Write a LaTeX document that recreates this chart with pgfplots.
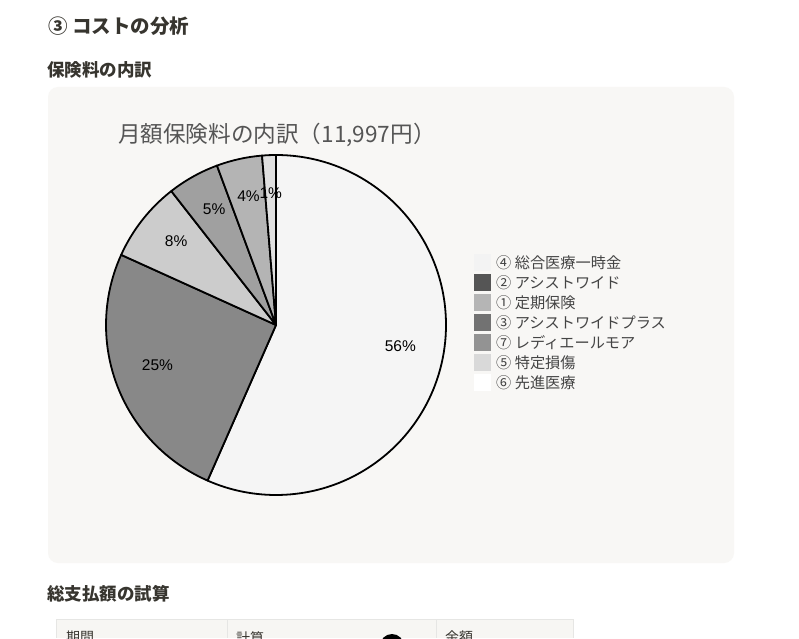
\documentclass[border=0pt]{standalone}
\usepackage{pgfplots}
\pgfplotsset{compat=1.18}
\usepackage{pgfplotstable}
\usepackage{fontspec}
\setmainfont{Noto Sans CJK JP}
\newfontfamily\lat{Liberation Sans}
\newcommand\pctfont{\lat\fontsize{15.5}{18}\selectfont}
\definecolor{S1}{HTML}{F5F5F5}
\definecolor{S2}{HTML}{888888}
\definecolor{S3}{HTML}{CCCCCC}
\definecolor{S4}{HTML}{A0A0A0}
\definecolor{S5}{HTML}{B4B4B4}
\definecolor{S6}{HTML}{E0E0E0}
\definecolor{L1}{HTML}{F3F3F3}
\definecolor{L2}{HTML}{555555}
\definecolor{L3}{HTML}{B5B5B5}
\definecolor{L4}{HTML}{727272}
\definecolor{L5}{HTML}{939393}
\definecolor{L6}{HTML}{D9D9D9}
\definecolor{L7}{HTML}{FFFFFF}
\definecolor{head}{HTML}{37352F}
\definecolor{panel}{HTML}{F8F7F5}
\definecolor{tabline}{HTML}{E6E6E4}
\definecolor{tabhead}{HTML}{F7F6F3}
\definecolor{titlec}{HTML}{555555}
\definecolor{legc}{HTML}{444444}

% monthly premium per item (yen), total 11,997
\pgfplotstableread{
value fill pct
6790 S1 56
3020 S2 25
920  S3 8
590  S4 5
520  S5 4
157  S6 1
}\piedata

\begin{document}
\begin{tikzpicture}
\useasboundingbox (0,0) rectangle (799pt,638pt);
\clip (0,0) rectangle (799pt,638pt);
\fill[white] (0,0) rectangle (799pt,638pt);
% headings
\node[anchor=west,inner sep=0pt,text=head,font=\fontsize{19.5}{22}\selectfont\bfseries] at (48pt,612pt) {③ コストの分析};
\node[anchor=west,inner sep=0pt,text=head,font=\fontsize{17.5}{20}\selectfont\bfseries] at (47pt,568pt) {保険料の内訳};
\node[anchor=west,inner sep=0pt,text=head,font=\fontsize{17.5}{20}\selectfont\bfseries] at (47pt,44pt) {総支払額の試算};
% panel
\fill[panel,rounded corners=10pt] (48pt,75pt) rectangle (734pt,551pt);
% table top
\fill[tabhead] (56pt,0pt) rectangle (573pt,19pt);
\draw[tabline,line width=1pt] (56pt,0pt) -- (56pt,19pt) -- (573pt,19pt) -- (573pt,0pt);
\draw[tabline,line width=1pt] (227pt,0pt) -- (227pt,19pt);
\draw[tabline,line width=1pt] (436pt,0pt) -- (436pt,19pt);
\node[anchor=north west,inner sep=0pt,text=head,font=\fontsize{14}{16}\selectfont] at (66pt,7pt) {期間};
\node[anchor=north west,inner sep=0pt,text=head,font=\fontsize{14}{16}\selectfont] at (236pt,7pt) {計算};
\node[anchor=north west,inner sep=0pt,text=head,font=\fontsize{14}{16}\selectfont] at (445pt,7pt) {金額};
\fill[black] (392pt,-8pt) circle (12pt);

% build pie slices from the table
\def\total{0}
\pgfplotsforeachungrouped \i in {0,...,5}{%
  \pgfplotstablegetelem{\i}{value}\of\piedata
  \pgfmathsetmacro\total{\total+\pgfplotsretval}%
}
\def\cum{0}
\gdef\slicecmds{}
\gdef\labelcmds{}
\pgfplotsforeachungrouped \i in {0,...,5}{%
  \pgfplotstablegetelem{\i}{value}\of\piedata \edef\sv{\pgfplotsretval}%
  \pgfplotstablegetelem{\i}{fill}\of\piedata \edef\sc{\pgfplotsretval}%
  \pgfplotstablegetelem{\i}{pct}\of\piedata \edef\sp{\pgfplotsretval}%
  \pgfmathsetmacro\sa{90-\cum/\total*360}%
  \pgfmathsetmacro\sb{90-(\cum+\sv)/\total*360}%
  \pgfmathsetmacro\sm{(\sa+\sb)/2}%
  \pgfmathsetmacro\cum{\cum+\sv}%
  \xdef\slicecmds{\unexpanded\expandafter{\slicecmds}%
    \noexpand\filldraw[fill=\sc,draw=black,line width=1.8pt,line join=round] (axis cs:0,0) -- (axis cs:{170*cos(\sa)},{170*sin(\sa)}) arc[start angle=\sa, end angle=\sb, radius=170pt] -- cycle;}%
  \xdef\labelcmds{\unexpanded\expandafter{\labelcmds}%
    \noexpand\node[inner sep=0pt,font=\noexpand\pctfont,text=black,yshift=5pt] at (axis cs:{127*cos(\sm)},{127*sin(\sm)}) {\sp\noexpand\%};}%
}

\begin{axis}[
  at={(276pt,313pt)}, anchor=center,
  scale only axis, width=340pt, height=340pt,
  xmin=-170, xmax=170, ymin=-170, ymax=170,
  hide axis, clip=false,
  title={月額保険料の内訳（11,997円）},
  title style={at={(0.035,1.041)}, anchor=west, inner sep=0pt,
    font=\fontsize{22.6}{25}\selectfont, text=titlec},
  legend image code/.code={\fill[#1,draw=none] (0pt,-8.5pt) rectangle (17pt,8.5pt);},
  legend style={at={(1.0824,0.7088)}, anchor=north west, draw=none, fill=none,
    inner sep=0pt, font=\fontsize{15.2}{18}\selectfont, text=legc,
    cells={anchor=west}, row sep=3pt, column sep=5pt,
    nodes={inner sep=0pt, outer sep=0pt}},
]
\addlegendimage{fill=L1}\addlegendentry{④ 総合医療一時金}
\addlegendimage{fill=L2}\addlegendentry{② アシストワイド}
\addlegendimage{fill=L3}\addlegendentry{① 定期保険}
\addlegendimage{fill=L4}\addlegendentry{③ アシストワイドプラス}
\addlegendimage{fill=L5}\addlegendentry{⑦ レディエールモア}
\addlegendimage{fill=L6}\addlegendentry{⑤ 特定損傷}
\addlegendimage{fill=L7}\addlegendentry{⑥ 先進医療}
\slicecmds
\labelcmds
\end{axis}
\end{tikzpicture}
\end{document}
